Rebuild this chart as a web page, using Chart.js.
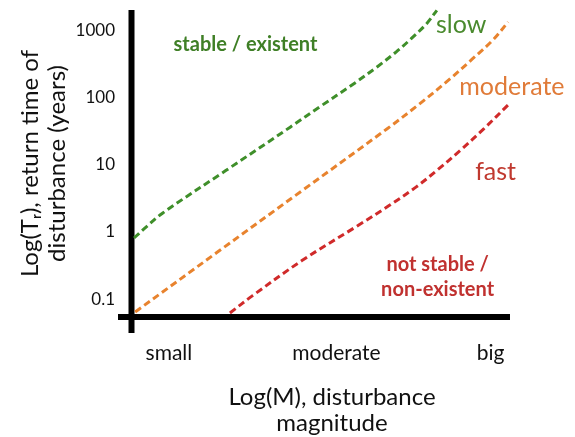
<!DOCTYPE html>
<html>
<head>
<meta charset="utf-8">
<script src="https://cdn.jsdelivr.net/npm/chart.js@4"></script>
<style>
  html, body { margin: 0; padding: 0; background: #ffffff; }
  #wrap { width: 575px; height: 437px; }
</style>
</head>
<body>
<div id="wrap"><canvas id="c" width="575" height="437"></canvas></div>
<script>
// ---- data (x: log disturbance magnitude, arbitrary units; y: return time in years) ----
const slowX = [0.08, 0.35, 0.84, 2.5, 4.2, 5.0, 5.86, 6.5, 7.0, 7.4, 7.8, 8.07];
const slowY = [0.813, 1.12, 1.92, 8.2, 36.3, 74.1, 158, 288, 479, 759, 1259, 1990];

const moderateX = [0.11, 2.3, 4.5, 6.76, 7.6, 8.4, 9.0, 9.55, 9.95];
const moderateY = [0.0646, 0.511, 4.07, 34.4, 79.4, 186, 372, 720, 1333];

const fastX = [2.61, 3.2, 4.5, 6.0, 6.8, 7.5, 8.1, 8.7, 9.3, 9.95];
const fastY = [0.0624, 0.112, 0.372, 1.26, 2.45, 4.57, 8.51, 16.6, 33.9, 77.6];

const yTickValues = [0.1, 1, 10, 100, 1000];
const yTickLabels = ['0.1', '1', '10', '100', '1000'];
const xTickValues = [1.0, 5.42, 9.49];
const xTickLabels = ['small', 'moderate', 'big'];

const yTitleLines = ['Log(T\u1D63), return time of', 'disturbance (years)'];
const xTitleLines = ['Log(M), disturbance', 'magnitude'];

const annotationTexts = ['stable / existent', 'slow', 'moderate', 'fast', 'not stable /', 'non-existent'];
const annotationX = [3.02, 8.71, 10.05, 9.62, 8.09, 8.09];
const annotationY = [493, 914, 109, 5.94, 0.263, 0.1117];

// ---- styles ----
const FONT = 'Lato, "DejaVu Sans", sans-serif';
const GREEN_LINE = '#3f8f2a', ORANGE_LINE = '#e8832e', RED_LINE = '#d02a2a';
const annotationColors = ['#3f7f26', '#4a8a2e', '#e07b39', '#c0392f', '#c0312f', '#c0312f'];
const annotationFonts = ['bold 20px ' + FONT, '25px ' + FONT, '25px ' + FONT, '25px ' + FONT, 'bold 20px ' + FONT, 'bold 20px ' + FONT];

const toPoints = (xs, ys) => xs.map((v, i) => ({ x: v, y: ys[i] }));

const lineStyle = (color) => ({
  borderColor: color,
  backgroundColor: color,
  borderWidth: 3,
  borderDash: [7, 4],
  pointRadius: 0,
  fill: false,
  tension: 0.35,
  clip: false
});

const axesPlugin = {
  id: 'crossAxes',
  beforeDatasetsDraw(chart) {
    const { ctx, chartArea, scales: { x } } = chart;
    ctx.save();
    ctx.strokeStyle = '#000000';
    ctx.lineWidth = 6;
    ctx.lineCap = 'butt';
    ctx.beginPath();
    ctx.moveTo(chartArea.left + 0.5, chartArea.top);
    ctx.lineTo(chartArea.left + 0.5, chartArea.bottom + 16);
    ctx.stroke();
    ctx.beginPath();
    ctx.moveTo(chartArea.left - 13, chartArea.bottom);
    ctx.lineTo(x.getPixelForValue(10), chartArea.bottom);
    ctx.stroke();
    ctx.restore();
  }
};

const annotationPlugin = {
  id: 'regionLabels',
  afterDatasetsDraw(chart) {
    const { ctx, scales: { x, y } } = chart;
    ctx.save();
    ctx.textAlign = 'center';
    ctx.textBaseline = 'alphabetic';
    annotationTexts.forEach((t, i) => {
      ctx.font = annotationFonts[i];
      ctx.fillStyle = annotationColors[i];
      ctx.fillText(t, x.getPixelForValue(annotationX[i]), y.getPixelForValue(annotationY[i]));
    });
    ctx.restore();
  }
};

new Chart(document.getElementById('c'), {
  type: 'line',
  data: {
    datasets: [
      Object.assign({ label: 'slow', data: toPoints(slowX, slowY) }, lineStyle(GREEN_LINE)),
      Object.assign({ label: 'moderate', data: toPoints(moderateX, moderateY) }, lineStyle(ORANGE_LINE)),
      Object.assign({ label: 'fast', data: toPoints(fastX, fastY) }, lineStyle(RED_LINE))
    ]
  },
  options: {
    responsive: false,
    animation: false,
    layout: { padding: { top: 10, right: 42, bottom: 0, left: 0 } },
    plugins: { legend: { display: false }, tooltip: { enabled: false } },
    scales: {
      x: {
        type: 'linear',
        position: 'bottom',
        min: 0,
        max: 10.607,
        grid: { display: false, drawTicks: false },
        border: { display: false },
        afterBuildTicks: (s) => { s.ticks = xTickValues.map(v => ({ value: v })); },
        afterFit: (s) => { s.height = 120; s.paddingLeft = 0; s.paddingRight = 0; },
        ticks: {
          autoSkip: false,
          maxRotation: 0,
          padding: 24,
          color: '#111111',
          font: { family: FONT, size: 21 },
          callback: (v, i) => xTickLabels[i]
        },
        title: {
          display: true,
          text: xTitleLines,
          color: '#111111',
          font: { family: FONT, size: 24, lineHeight: 26 / 24 },
          padding: { top: 0, bottom: 1 }
        }
      },
      y: {
        type: 'logarithmic',
        position: 'left',
        min: 0.0543,
        max: 2010,
        grid: { display: false, drawTicks: false },
        border: { display: false },
        afterBuildTicks: (s) => { s.ticks = yTickValues.map(v => ({ value: v })); },
        afterFit: (s) => { s.width = 131; s.paddingTop = 0; s.paddingBottom = 0; },
        ticks: {
          autoSkip: false,
          padding: 16,
          color: '#111111',
          font: { family: FONT, size: 17 },
          callback: (v, i) => yTickLabels[i]
        },
        title: {
          display: true,
          text: yTitleLines,
          color: '#111111',
          font: { family: FONT, size: 24, lineHeight: 27 / 24 },
          padding: { top: 16.5, bottom: 0 }
        }
      }
    }
  },
  plugins: [axesPlugin, annotationPlugin]
});
</script>
</body>
</html>
